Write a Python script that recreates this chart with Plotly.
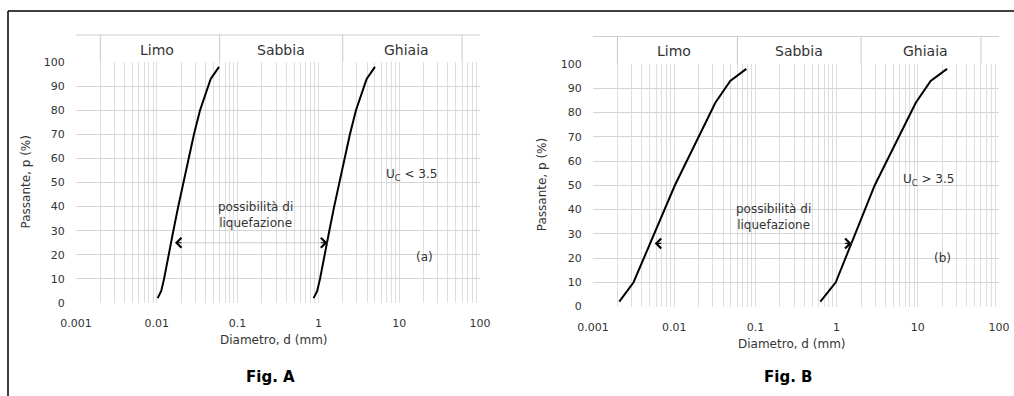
import math
import plotly.graph_objects as go

W, H = 1014, 396

# ---------------- data ----------------
# Fig. A (Uc < 3.5)
pA_fine = [2, 5, 10, 20, 30, 40, 50, 60, 70, 80, 93, 98]
dA_fine = [0.01026, 0.01135, 0.0123, 0.01396, 0.01603, 0.01841, 0.02138, 0.02483, 0.02884, 0.03428, 0.04645, 0.05888]
pA_coarse = [2, 5, 10, 20, 30, 40, 50, 60, 70, 80, 93, 98]
dA_coarse = [0.873, 0.966, 1.047, 1.189, 1.365, 1.567, 1.820, 2.113, 2.455, 2.917, 3.954, 5.012]

# Fig. B (Uc > 3.5)
pB_fine = [2, 10, 50, 84, 93, 98]
dB_fine = [0.00211, 0.00316, 0.0102, 0.0321, 0.049, 0.0773]
pB_coarse = [2, 10, 50, 84, 93, 98]
dB_coarse = [0.631, 0.977, 2.95, 9.44, 14.4, 22.9]

# liquefaction-range arrows: (left tip d, right tip d, p)
arrowA = (0.0168, 1.29, 25)
arrowB = (0.00575, 1.53, 26)

# soil-class band
band_limits = [0.002, 0.06, 2, 60]
band_names = ["Limo", "Sabbia", "Ghiaia"]
band_label_d = [0.01, 0.344, 12.4]

x_tickvals = [0.001, 0.01, 0.1, 1, 10, 100]
x_ticktext = ["0.001", "0.01", "0.1", "1", "10", "100"]
y_tickvals = [0, 10, 20, 30, 40, 50, 60, 70, 80, 90, 100]

minor_vals = [m * 10 ** e for e in range(-3, 2) for m in range(2, 11)]

# ---------------- helpers ----------------
def px(x):
    return x / W

def py(y):
    return 1 - y / H

FONT = "DejaVu Sans"
TXT = "#333333"
GRID_H = "#d4d4d4"
GRID_V = "#dedede"

fig = go.Figure()

panels = [
    dict(xa="x", ya="y", xaxis="xaxis", yaxis="yaxis", x0=76, x1=480, ybot=303, ytop=62, band_top=35,
         fine=(dA_fine, pA_fine), coarse=(dA_coarse, pA_coarse), arrow=arrowA,
         uc="U<sub>C</sub> &lt; 3.5", uc_pos=(1.158, 53), tag="(a)", tag_pos=(1.319, 19),
         liq_pos=(-0.775, 36.5), fig="Fig. A"),
    dict(xa="x2", ya="y2", xaxis="xaxis2", yaxis="yaxis2", x0=593, x1=999, ybot=306.5, ytop=64, band_top=36.5,
         fine=(dB_fine, pB_fine), coarse=(dB_coarse, pB_coarse), arrow=arrowB,
         uc="U<sub>C</sub> &gt; 3.5", uc_pos=(1.134, 52.2), tag="(b)", tag_pos=(1.298, 20),
         liq_pos=(-0.775, 36.75), fig="Fig. B"),
]

shapes = []
annotations = []
layout_axes = {}

def ann(**kw):
    kw.setdefault("xanchor", "center")
    kw.setdefault("yanchor", "middle")
    kw.setdefault("showarrow", False)
    annotations.append(kw)

for P in panels:
    for d, p in (P["fine"], P["coarse"]):
        fig.add_trace(go.Scatter(x=d, y=p, xaxis=P["xa"], yaxis=P["ya"], mode="lines",
                                 line=dict(color="black", width=2), showlegend=False,
                                 hoverinfo="skip"))

    layout_axes[P["xaxis"]] = dict(
        type="log", range=[-3, 2], domain=[px(P["x0"]), px(P["x1"])], anchor=P["ya"],
        tickvals=x_tickvals, ticktext=x_ticktext, showgrid=False, zeroline=False,
        showline=False, ticks="outside", ticklen=10, tickcolor="rgba(0,0,0,0)",
        tickfont=dict(family=FONT, size=11, color=TXT), automargin=False,
        minor=dict(tickvals=minor_vals, showgrid=True, gridcolor=GRID_V, gridwidth=1, ticks=""),
        fixedrange=True,
    )
    layout_axes[P["yaxis"]] = dict(
        range=[0, 100], domain=[py(P["ybot"]), py(P["ytop"])], anchor=P["xa"],
        tickvals=y_tickvals, showgrid=True, gridcolor=GRID_H, gridwidth=1, zeroline=False,
        showline=False, ticks="outside", ticklen=8, tickcolor="rgba(0,0,0,0)",
        tickfont=dict(family=FONT, size=11, color=TXT), fixedrange=True, automargin=False,
    )

    # soil-class band
    shapes.append(dict(type="line", xref=P["xa"], yref="paper", x0=0.001, x1=100,
                       y0=py(P["band_top"]), y1=py(P["band_top"]),
                       line=dict(color="#cfcfcf", width=1)))
    for lim in band_limits:
        shapes.append(dict(type="line", xref=P["xa"], yref="paper", x0=lim, x1=lim,
                           y0=py(P["ytop"]), y1=py(P["band_top"]),
                           line=dict(color="#c8c8c8", width=1)))
    for name, dl in zip(band_names, band_label_d):
        ann(x=math.log10(dl), y=py((P["ytop"] + P["band_top"]) / 2 + 1),
            xref=P["xa"], yref="paper", text=name,
            font=dict(family=FONT, size=14, color=TXT))

    # liquefaction arrows
    dl, dr, pa = P["arrow"]
    shapes.append(dict(type="line", xref=P["xa"], yref=P["ya"], x0=dl, x1=dr, y0=pa, y1=pa,
                       line=dict(color="#cccccc", width=1)))
    annotations.append(dict(x=math.log10(dl), y=pa, xref=P["xa"], yref=P["ya"], text="",
                            showarrow=True, ax=8, ay=0, arrowhead=4, arrowsize=1.6,
                            arrowwidth=1.2, arrowcolor="black", standoff=0))
    annotations.append(dict(x=math.log10(dr), y=pa, xref=P["xa"], yref=P["ya"], text="",
                            showarrow=True, ax=-8, ay=0, arrowhead=4, arrowsize=1.6,
                            arrowwidth=1.2, arrowcolor="black", standoff=0))

    lx, ly = P["liq_pos"]
    ann(x=lx, y=ly, xref=P["xa"], yref=P["ya"], text="possibilità di<br>liquefazione",
        font=dict(family=FONT, size=12, color=TXT))
    ux, uy = P["uc_pos"]
    ann(x=ux, y=uy, xref=P["xa"], yref=P["ya"], text=P["uc"],
        font=dict(family=FONT, size=12, color=TXT))
    tx, ty = P["tag_pos"]
    ann(x=tx, y=ty, xref=P["xa"], yref=P["ya"], text=P["tag"],
        font=dict(family=FONT, size=12, color=TXT))

    # axis titles
    xc = (P["x0"] + P["x1"]) / 2
    ann(x=px(xc - 4), y=py(P["ybot"] + 37), xref="paper", yref="paper",
        text="Diametro, d (mm)", font=dict(family=FONT, size=12, color=TXT))
    ann(x=px(P["x0"] - 51), y=py((P["ybot"] + P["ytop"]) / 2), xref="paper", yref="paper",
        text="Passante, p (%)", textangle=-90, font=dict(family=FONT, size=12, color=TXT))
    ann(x=px(xc - 8), y=py(377), xref="paper", yref="paper",
        text="<b>" + P["fig"] + "</b>", font=dict(family=FONT, size=15, color="black"))

# frame lines
shapes.append(dict(type="line", xref="paper", yref="paper", x0=px(8), x1=1, y0=py(11), y1=py(11),
                   line=dict(color="black", width=1.5)))
shapes.append(dict(type="line", xref="paper", yref="paper", x0=px(8), x1=px(8), y0=py(11), y1=0,
                   line=dict(color="black", width=1.5)))

fig.update_layout(
    template="none",
    width=W, height=H, autosize=False,
    margin=dict(l=0, r=0, t=0, b=0, pad=0, autoexpand=False),
    paper_bgcolor="white", plot_bgcolor="white",
    shapes=shapes, annotations=annotations,
    showlegend=False,
    **layout_axes,
)

fig.write_html(
    "out.html",
    config={"displayModeBar": False, "responsive": False},
    post_script="document.body.style.margin='0';document.body.style.padding='0';"
                "document.body.style.overflow='hidden';"
                "document.documentElement.style.overflow='hidden';",
)
